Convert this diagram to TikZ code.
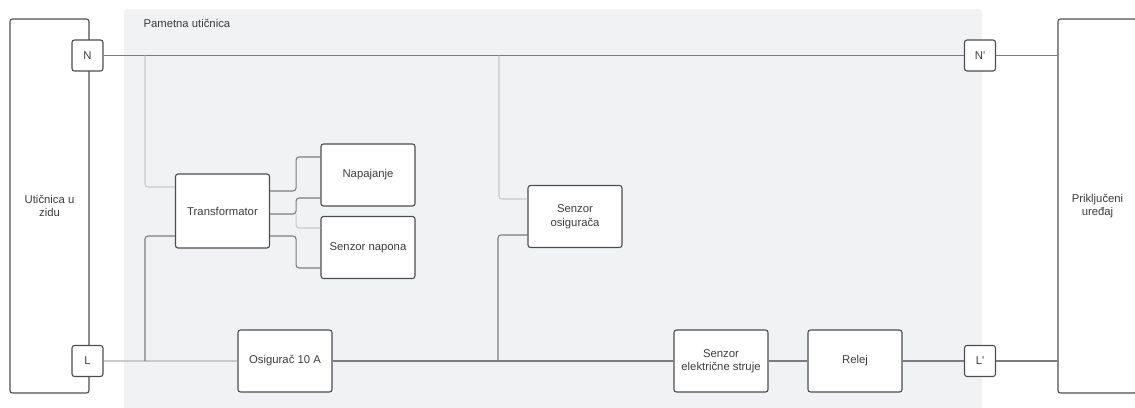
\documentclass[tikz,border=0pt]{standalone}
\usepackage{fontspec}
\setmainfont{Liberation Sans}
\definecolor{pozadina}{HTML}{F1F2F4}
\definecolor{rub}{HTML}{4D4D52}
\definecolor{tekst}{HTML}{3C3C40}
\definecolor{tamna}{HTML}{7C7C80}
\definecolor{svijetla}{HTML}{C8C9CC}
\tikzset{
  blok/.style={draw=rub,fill=white,rounded corners=2.5pt,line width=1.1pt,
    minimum width=94pt,minimum height=62pt,align=center,text=tekst,
    font=\fontsize{11.3}{13.5}\selectfont},
  prikljucak/.style={blok,minimum width=31pt,minimum height=31pt,inner sep=0},
  vod/.style={draw=tamna,line width=1.1pt,rounded corners=3pt},
  slabvod/.style={draw=svijetla,line width=1.1pt,rounded corners=3pt}
}
\begin{document}
\begin{tikzpicture}[x=1pt,y=-1pt]
    \useasboundingbox (0,0) rectangle (1135,407);
    \fill[pozadina,rounded corners=3pt] (124,9) rectangle (982,415);
    \node[anchor=west,text=tekst,font=\fontsize{11.3}{13.5}\selectfont] (naslov) at (140,23) {Pametna utičnica};
    % uticnica i uredaj
    \node[blok,minimum width=79pt,minimum height=374pt] (zid) at (49.5,206) {Utičnica u\\zidu};
    \node[blok,minimum width=79pt,minimum height=374pt] (uredaj) at (1097.5,206) {Priključeni\\uređaj};
    \foreach \ime/\x/\y/\txt in {n/87.5/55.5/N,l/87.5/361/L,
      np/980/55.5/N\textquotesingle,lp/980/361/L\textquotesingle}{
    \node[prikljucak](\ime)at(\x,\y){\txt};}
    % blokovi
    \node[blok,minimum height=74pt] (tr) at (222.5,211) {Transformator};
    \node[blok] (nap) at (368,175) {Napajanje};
    \node[blok] (sn) at (368,247.5) {Senzor napona};
    \node[blok] (so) at (575,216.5) {Senzor\\osigurača};
    \node[blok] (os) at (285,361) {Osigurač 10 A};
    \node[blok] (ses) at (721,361) {Senzor\\električne struje};
    \node[blok] (rel) at (855,361) {Relej};
    % vodovi
    \coordinate (nA) at (145,55.5);
    \coordinate (nB) at (499,55.5);
    \coordinate (lA) at (145,361);
    \coordinate (lB) at (498,361);
    \draw[vod] (n) -- (np);
    \draw[vod] (np) -- (np-|uredaj.west);
    \draw[slabvod] (l) -- (os);
    \draw[vod] (os) -- (ses);
    \draw[vod] (ses) -- (rel);
    \draw[vod] (rel) -- (lp);
    \draw[vod] (lp) -- (lp-|uredaj.west);
    \draw[slabvod] (nA) |- ([yshift=24pt]tr.west);
    \draw[vod] (lA) |- ([yshift=-25pt]tr.west);
    \draw[slabvod] (nB) |- ([yshift=17.5pt]so.west);
    \draw[vod] (lB) |- ([yshift=-18.5pt]so.west);
    \draw[vod] ([yshift=20pt]tr.east) -- ++(26,0) |- ([yshift=18pt]nap.west);
    \draw[vod] ([yshift=-3pt]tr.east) -- ++(26,0) |- ([yshift=-23pt]nap.west);
    \draw[slabvod] ([yshift=-3pt]tr.east) ++(26,0) |- ([yshift=19.5pt]sn.west);
    \draw[vod] ([yshift=-25pt]tr.east) -- ++(26,0) |- ([yshift=-20.5pt]sn.west);
\end{tikzpicture}
\end{document}
